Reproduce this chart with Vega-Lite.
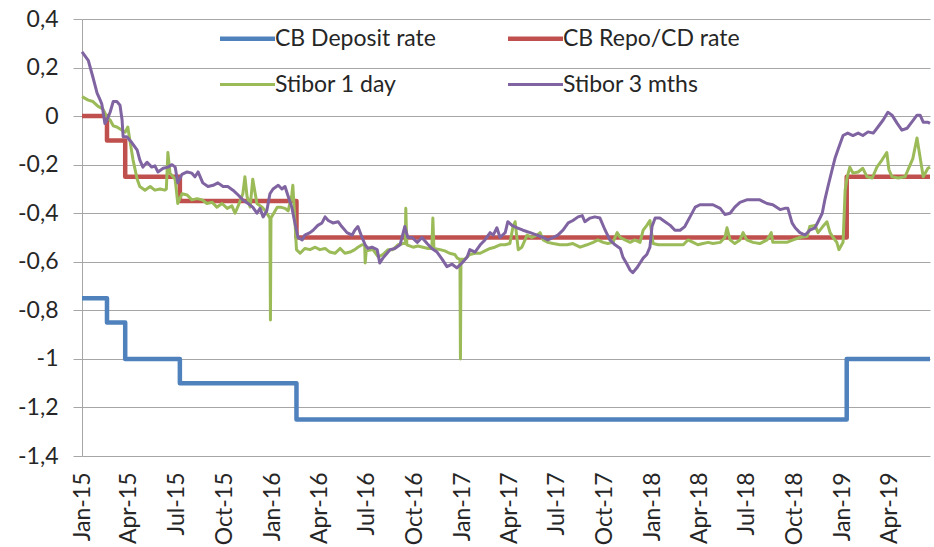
{
  "$schema": "https://vega.github.io/schema/vega-lite/v6.json",
  "width": 848,
  "height": 437,
  "autosize": "none",
  "padding": {"left": 82, "top": 19, "right": 4, "bottom": 91},
  "background": "white",
  "config": {
    "view": {"stroke": null},
    "font": "Lato",
    "axis": {"labelFont": "Lato", "labelFontSize": 23, "labelColor": "#262626"},
    "legend": {"labelFont": "Lato", "labelFontSize": 23, "labelColor": "#262626"}
  },
  "datasets": {
    "ticks": [
      {"date": "2015/01/01"}, {"date": "2015/04/01"}, {"date": "2015/07/01"}, {"date": "2015/10/01"},
      {"date": "2016/01/01"}, {"date": "2016/04/01"}, {"date": "2016/07/01"}, {"date": "2016/10/01"},
      {"date": "2017/01/01"}, {"date": "2017/04/01"}, {"date": "2017/07/01"}, {"date": "2017/10/01"},
      {"date": "2018/01/01"}, {"date": "2018/04/01"}, {"date": "2018/07/01"}, {"date": "2018/10/01"},
      {"date": "2019/01/01"}, {"date": "2019/04/01"}
    ],
    "policy": [
      {"date": "2015/01/01", "series": "CB Deposit rate", "value": -0.75},
      {"date": "2015/02/18", "series": "CB Deposit rate", "value": -0.85},
      {"date": "2015/03/25", "series": "CB Deposit rate", "value": -1.0},
      {"date": "2015/07/08", "series": "CB Deposit rate", "value": -1.1},
      {"date": "2016/02/17", "series": "CB Deposit rate", "value": -1.25},
      {"date": "2019/01/09", "series": "CB Deposit rate", "value": -1.0},
      {"date": "2019/06/18", "series": "CB Deposit rate", "value": -1.0},
      {"date": "2015/01/01", "series": "CB Repo/CD rate", "value": 0},
      {"date": "2015/02/18", "series": "CB Repo/CD rate", "value": -0.1},
      {"date": "2015/03/25", "series": "CB Repo/CD rate", "value": -0.25},
      {"date": "2015/07/08", "series": "CB Repo/CD rate", "value": -0.35},
      {"date": "2016/02/17", "series": "CB Repo/CD rate", "value": -0.5},
      {"date": "2019/01/09", "series": "CB Repo/CD rate", "value": -0.25},
      {"date": "2019/06/18", "series": "CB Repo/CD rate", "value": -0.25}
    ],
    "market": [
      {"date": "2015/01/01", "series": "Stibor 1 day", "value": 0.08},
      {"date": "2015/01/13", "series": "Stibor 1 day", "value": 0.066},
      {"date": "2015/01/22", "series": "Stibor 1 day", "value": 0.06},
      {"date": "2015/02/01", "series": "Stibor 1 day", "value": 0.04},
      {"date": "2015/02/10", "series": "Stibor 1 day", "value": 0.03},
      {"date": "2015/02/18", "series": "Stibor 1 day", "value": -0.004},
      {"date": "2015/02/24", "series": "Stibor 1 day", "value": -0.016},
      {"date": "2015/03/02", "series": "Stibor 1 day", "value": -0.04},
      {"date": "2015/03/09", "series": "Stibor 1 day", "value": -0.045},
      {"date": "2015/03/19", "series": "Stibor 1 day", "value": -0.058},
      {"date": "2015/03/25", "series": "Stibor 1 day", "value": -0.066},
      {"date": "2015/03/30", "series": "Stibor 1 day", "value": -0.045},
      {"date": "2015/04/03", "series": "Stibor 1 day", "value": -0.1},
      {"date": "2015/04/09", "series": "Stibor 1 day", "value": -0.18},
      {"date": "2015/04/17", "series": "Stibor 1 day", "value": -0.26},
      {"date": "2015/04/22", "series": "Stibor 1 day", "value": -0.29},
      {"date": "2015/05/02", "series": "Stibor 1 day", "value": -0.305},
      {"date": "2015/05/12", "series": "Stibor 1 day", "value": -0.29},
      {"date": "2015/05/21", "series": "Stibor 1 day", "value": -0.305},
      {"date": "2015/05/31", "series": "Stibor 1 day", "value": -0.3},
      {"date": "2015/06/09", "series": "Stibor 1 day", "value": -0.305},
      {"date": "2015/06/12", "series": "Stibor 1 day", "value": -0.3},
      {"date": "2015/06/15", "series": "Stibor 1 day", "value": -0.15},
      {"date": "2015/06/19", "series": "Stibor 1 day", "value": -0.235},
      {"date": "2015/06/29", "series": "Stibor 1 day", "value": -0.26},
      {"date": "2015/07/04", "series": "Stibor 1 day", "value": -0.36},
      {"date": "2015/07/12", "series": "Stibor 1 day", "value": -0.32},
      {"date": "2015/07/22", "series": "Stibor 1 day", "value": -0.325},
      {"date": "2015/07/31", "series": "Stibor 1 day", "value": -0.345},
      {"date": "2015/08/10", "series": "Stibor 1 day", "value": -0.34},
      {"date": "2015/08/20", "series": "Stibor 1 day", "value": -0.345},
      {"date": "2015/08/29", "series": "Stibor 1 day", "value": -0.36},
      {"date": "2015/09/08", "series": "Stibor 1 day", "value": -0.355},
      {"date": "2015/09/17", "series": "Stibor 1 day", "value": -0.375},
      {"date": "2015/09/27", "series": "Stibor 1 day", "value": -0.36},
      {"date": "2015/10/07", "series": "Stibor 1 day", "value": -0.38},
      {"date": "2015/10/16", "series": "Stibor 1 day", "value": -0.37},
      {"date": "2015/10/22", "series": "Stibor 1 day", "value": -0.4},
      {"date": "2015/10/28", "series": "Stibor 1 day", "value": -0.37},
      {"date": "2015/11/06", "series": "Stibor 1 day", "value": -0.32},
      {"date": "2015/11/10", "series": "Stibor 1 day", "value": -0.25},
      {"date": "2015/11/14", "series": "Stibor 1 day", "value": -0.33},
      {"date": "2015/11/20", "series": "Stibor 1 day", "value": -0.375},
      {"date": "2015/11/25", "series": "Stibor 1 day", "value": -0.26},
      {"date": "2015/12/03", "series": "Stibor 1 day", "value": -0.36},
      {"date": "2015/12/13", "series": "Stibor 1 day", "value": -0.375},
      {"date": "2015/12/19", "series": "Stibor 1 day", "value": -0.39},
      {"date": "2015/12/28", "series": "Stibor 1 day", "value": -0.42},
      {"date": "2015/12/29", "series": "Stibor 1 day", "value": -0.84},
      {"date": "2015/12/30", "series": "Stibor 1 day", "value": -0.42},
      {"date": "2016/01/11", "series": "Stibor 1 day", "value": -0.375},
      {"date": "2016/01/17", "series": "Stibor 1 day", "value": -0.375},
      {"date": "2016/01/26", "series": "Stibor 1 day", "value": -0.38},
      {"date": "2016/02/01", "series": "Stibor 1 day", "value": -0.39},
      {"date": "2016/02/08", "series": "Stibor 1 day", "value": -0.325},
      {"date": "2016/02/10", "series": "Stibor 1 day", "value": -0.285},
      {"date": "2016/02/14", "series": "Stibor 1 day", "value": -0.43},
      {"date": "2016/02/17", "series": "Stibor 1 day", "value": -0.55},
      {"date": "2016/02/24", "series": "Stibor 1 day", "value": -0.565},
      {"date": "2016/03/04", "series": "Stibor 1 day", "value": -0.545},
      {"date": "2016/03/14", "series": "Stibor 1 day", "value": -0.55},
      {"date": "2016/03/24", "series": "Stibor 1 day", "value": -0.54},
      {"date": "2016/04/02", "series": "Stibor 1 day", "value": -0.55},
      {"date": "2016/04/12", "series": "Stibor 1 day", "value": -0.545},
      {"date": "2016/04/21", "series": "Stibor 1 day", "value": -0.56},
      {"date": "2016/05/01", "series": "Stibor 1 day", "value": -0.565},
      {"date": "2016/05/11", "series": "Stibor 1 day", "value": -0.545},
      {"date": "2016/05/20", "series": "Stibor 1 day", "value": -0.565},
      {"date": "2016/05/30", "series": "Stibor 1 day", "value": -0.56},
      {"date": "2016/06/08", "series": "Stibor 1 day", "value": -0.55},
      {"date": "2016/06/14", "series": "Stibor 1 day", "value": -0.54},
      {"date": "2016/06/22", "series": "Stibor 1 day", "value": -0.53},
      {"date": "2016/06/27", "series": "Stibor 1 day", "value": -0.53},
      {"date": "2016/06/28", "series": "Stibor 1 day", "value": -0.605},
      {"date": "2016/06/30", "series": "Stibor 1 day", "value": -0.555},
      {"date": "2016/07/13", "series": "Stibor 1 day", "value": -0.55},
      {"date": "2016/07/23", "series": "Stibor 1 day", "value": -0.58},
      {"date": "2016/08/01", "series": "Stibor 1 day", "value": -0.57},
      {"date": "2016/08/11", "series": "Stibor 1 day", "value": -0.55},
      {"date": "2016/08/20", "series": "Stibor 1 day", "value": -0.55},
      {"date": "2016/08/30", "series": "Stibor 1 day", "value": -0.53},
      {"date": "2016/09/09", "series": "Stibor 1 day", "value": -0.525},
      {"date": "2016/09/13", "series": "Stibor 1 day", "value": -0.525},
      {"date": "2016/09/14", "series": "Stibor 1 day", "value": -0.38},
      {"date": "2016/09/16", "series": "Stibor 1 day", "value": -0.53},
      {"date": "2016/09/28", "series": "Stibor 1 day", "value": -0.54},
      {"date": "2016/10/07", "series": "Stibor 1 day", "value": -0.535},
      {"date": "2016/10/17", "series": "Stibor 1 day", "value": -0.54},
      {"date": "2016/10/27", "series": "Stibor 1 day", "value": -0.545},
      {"date": "2016/11/03", "series": "Stibor 1 day", "value": -0.545},
      {"date": "2016/11/05", "series": "Stibor 1 day", "value": -0.42},
      {"date": "2016/11/07", "series": "Stibor 1 day", "value": -0.545},
      {"date": "2016/11/19", "series": "Stibor 1 day", "value": -0.55},
      {"date": "2016/11/28", "series": "Stibor 1 day", "value": -0.555},
      {"date": "2016/12/07", "series": "Stibor 1 day", "value": -0.565},
      {"date": "2016/12/17", "series": "Stibor 1 day", "value": -0.57},
      {"date": "2016/12/22", "series": "Stibor 1 day", "value": -0.585},
      {"date": "2016/12/27", "series": "Stibor 1 day", "value": -0.59},
      {"date": "2016/12/28", "series": "Stibor 1 day", "value": -1.0},
      {"date": "2016/12/29", "series": "Stibor 1 day", "value": -0.59},
      {"date": "2017/01/05", "series": "Stibor 1 day", "value": -0.59},
      {"date": "2017/01/15", "series": "Stibor 1 day", "value": -0.57},
      {"date": "2017/01/25", "series": "Stibor 1 day", "value": -0.565},
      {"date": "2017/02/04", "series": "Stibor 1 day", "value": -0.565},
      {"date": "2017/02/13", "series": "Stibor 1 day", "value": -0.555},
      {"date": "2017/02/23", "series": "Stibor 1 day", "value": -0.545},
      {"date": "2017/03/04", "series": "Stibor 1 day", "value": -0.54},
      {"date": "2017/03/14", "series": "Stibor 1 day", "value": -0.53},
      {"date": "2017/03/24", "series": "Stibor 1 day", "value": -0.53},
      {"date": "2017/04/02", "series": "Stibor 1 day", "value": -0.525},
      {"date": "2017/04/08", "series": "Stibor 1 day", "value": -0.455},
      {"date": "2017/04/12", "series": "Stibor 1 day", "value": -0.435},
      {"date": "2017/04/18", "series": "Stibor 1 day", "value": -0.55},
      {"date": "2017/04/25", "series": "Stibor 1 day", "value": -0.54},
      {"date": "2017/05/05", "series": "Stibor 1 day", "value": -0.49},
      {"date": "2017/05/14", "series": "Stibor 1 day", "value": -0.5},
      {"date": "2017/05/24", "series": "Stibor 1 day", "value": -0.49},
      {"date": "2017/05/30", "series": "Stibor 1 day", "value": -0.48},
      {"date": "2017/06/05", "series": "Stibor 1 day", "value": -0.51},
      {"date": "2017/06/14", "series": "Stibor 1 day", "value": -0.52},
      {"date": "2017/06/24", "series": "Stibor 1 day", "value": -0.525},
      {"date": "2017/07/07", "series": "Stibor 1 day", "value": -0.53},
      {"date": "2017/07/21", "series": "Stibor 1 day", "value": -0.53},
      {"date": "2017/08/01", "series": "Stibor 1 day", "value": -0.525},
      {"date": "2017/08/15", "series": "Stibor 1 day", "value": -0.54},
      {"date": "2017/08/28", "series": "Stibor 1 day", "value": -0.53},
      {"date": "2017/09/09", "series": "Stibor 1 day", "value": -0.52},
      {"date": "2017/09/18", "series": "Stibor 1 day", "value": -0.51},
      {"date": "2017/09/28", "series": "Stibor 1 day", "value": -0.52},
      {"date": "2017/10/07", "series": "Stibor 1 day", "value": -0.525},
      {"date": "2017/10/17", "series": "Stibor 1 day", "value": -0.52},
      {"date": "2017/10/25", "series": "Stibor 1 day", "value": -0.48},
      {"date": "2017/10/31", "series": "Stibor 1 day", "value": -0.5},
      {"date": "2017/11/09", "series": "Stibor 1 day", "value": -0.51},
      {"date": "2017/11/19", "series": "Stibor 1 day", "value": -0.52},
      {"date": "2017/11/28", "series": "Stibor 1 day", "value": -0.51},
      {"date": "2017/12/08", "series": "Stibor 1 day", "value": -0.52},
      {"date": "2017/12/14", "series": "Stibor 1 day", "value": -0.47},
      {"date": "2017/12/21", "series": "Stibor 1 day", "value": -0.45},
      {"date": "2017/12/27", "series": "Stibor 1 day", "value": -0.43},
      {"date": "2018/01/02", "series": "Stibor 1 day", "value": -0.525},
      {"date": "2018/01/12", "series": "Stibor 1 day", "value": -0.53},
      {"date": "2018/01/21", "series": "Stibor 1 day", "value": -0.53},
      {"date": "2018/02/04", "series": "Stibor 1 day", "value": -0.53},
      {"date": "2018/02/17", "series": "Stibor 1 day", "value": -0.53},
      {"date": "2018/03/01", "series": "Stibor 1 day", "value": -0.53},
      {"date": "2018/03/10", "series": "Stibor 1 day", "value": -0.51},
      {"date": "2018/03/20", "series": "Stibor 1 day", "value": -0.52},
      {"date": "2018/03/29", "series": "Stibor 1 day", "value": -0.53},
      {"date": "2018/04/08", "series": "Stibor 1 day", "value": -0.525},
      {"date": "2018/04/18", "series": "Stibor 1 day", "value": -0.52},
      {"date": "2018/04/27", "series": "Stibor 1 day", "value": -0.525},
      {"date": "2018/05/11", "series": "Stibor 1 day", "value": -0.52},
      {"date": "2018/05/20", "series": "Stibor 1 day", "value": -0.5},
      {"date": "2018/05/24", "series": "Stibor 1 day", "value": -0.46},
      {"date": "2018/05/30", "series": "Stibor 1 day", "value": -0.51},
      {"date": "2018/06/08", "series": "Stibor 1 day", "value": -0.525},
      {"date": "2018/06/18", "series": "Stibor 1 day", "value": -0.51},
      {"date": "2018/06/24", "series": "Stibor 1 day", "value": -0.48},
      {"date": "2018/07/01", "series": "Stibor 1 day", "value": -0.51},
      {"date": "2018/07/13", "series": "Stibor 1 day", "value": -0.52},
      {"date": "2018/07/26", "series": "Stibor 1 day", "value": -0.525},
      {"date": "2018/08/09", "series": "Stibor 1 day", "value": -0.51},
      {"date": "2018/08/17", "series": "Stibor 1 day", "value": -0.48},
      {"date": "2018/08/20", "series": "Stibor 1 day", "value": -0.52},
      {"date": "2018/09/03", "series": "Stibor 1 day", "value": -0.52},
      {"date": "2018/09/16", "series": "Stibor 1 day", "value": -0.52},
      {"date": "2018/09/28", "series": "Stibor 1 day", "value": -0.51},
      {"date": "2018/10/11", "series": "Stibor 1 day", "value": -0.5},
      {"date": "2018/10/25", "series": "Stibor 1 day", "value": -0.495},
      {"date": "2018/10/30", "series": "Stibor 1 day", "value": -0.455},
      {"date": "2018/11/09", "series": "Stibor 1 day", "value": -0.45},
      {"date": "2018/11/15", "series": "Stibor 1 day", "value": -0.48},
      {"date": "2018/11/24", "series": "Stibor 1 day", "value": -0.455},
      {"date": "2018/12/02", "series": "Stibor 1 day", "value": -0.435},
      {"date": "2018/12/08", "series": "Stibor 1 day", "value": -0.48},
      {"date": "2018/12/14", "series": "Stibor 1 day", "value": -0.5},
      {"date": "2018/12/21", "series": "Stibor 1 day", "value": -0.52},
      {"date": "2018/12/25", "series": "Stibor 1 day", "value": -0.55},
      {"date": "2019/01/02", "series": "Stibor 1 day", "value": -0.52},
      {"date": "2019/01/06", "series": "Stibor 1 day", "value": -0.305},
      {"date": "2019/01/10", "series": "Stibor 1 day", "value": -0.25},
      {"date": "2019/01/15", "series": "Stibor 1 day", "value": -0.21},
      {"date": "2019/01/21", "series": "Stibor 1 day", "value": -0.235},
      {"date": "2019/01/31", "series": "Stibor 1 day", "value": -0.23},
      {"date": "2019/02/09", "series": "Stibor 1 day", "value": -0.215},
      {"date": "2019/02/17", "series": "Stibor 1 day", "value": -0.25},
      {"date": "2019/02/27", "series": "Stibor 1 day", "value": -0.255},
      {"date": "2019/03/08", "series": "Stibor 1 day", "value": -0.21},
      {"date": "2019/03/18", "series": "Stibor 1 day", "value": -0.18},
      {"date": "2019/03/27", "series": "Stibor 1 day", "value": -0.15},
      {"date": "2019/03/31", "series": "Stibor 1 day", "value": -0.22},
      {"date": "2019/04/06", "series": "Stibor 1 day", "value": -0.25},
      {"date": "2019/04/18", "series": "Stibor 1 day", "value": -0.255},
      {"date": "2019/05/01", "series": "Stibor 1 day", "value": -0.25},
      {"date": "2019/05/11", "series": "Stibor 1 day", "value": -0.2},
      {"date": "2019/05/16", "series": "Stibor 1 day", "value": -0.175},
      {"date": "2019/05/24", "series": "Stibor 1 day", "value": -0.09},
      {"date": "2019/05/30", "series": "Stibor 1 day", "value": -0.17},
      {"date": "2019/06/05", "series": "Stibor 1 day", "value": -0.25},
      {"date": "2019/06/14", "series": "Stibor 1 day", "value": -0.215},
      {"date": "2019/06/18", "series": "Stibor 1 day", "value": -0.21},
      {"date": "2015/01/01", "series": "Stibor 3 mths", "value": 0.265},
      {"date": "2015/01/13", "series": "Stibor 3 mths", "value": 0.23},
      {"date": "2015/01/22", "series": "Stibor 3 mths", "value": 0.16},
      {"date": "2015/01/30", "series": "Stibor 3 mths", "value": 0.095},
      {"date": "2015/02/05", "series": "Stibor 3 mths", "value": 0.066},
      {"date": "2015/02/08", "series": "Stibor 3 mths", "value": 0.05},
      {"date": "2015/02/10", "series": "Stibor 3 mths", "value": 0.025},
      {"date": "2015/02/14", "series": "Stibor 3 mths", "value": -0.03},
      {"date": "2015/02/18", "series": "Stibor 3 mths", "value": -0.016},
      {"date": "2015/02/24", "series": "Stibor 3 mths", "value": 0.016},
      {"date": "2015/03/02", "series": "Stibor 3 mths", "value": 0.06},
      {"date": "2015/03/09", "series": "Stibor 3 mths", "value": 0.06},
      {"date": "2015/03/15", "series": "Stibor 3 mths", "value": 0.045},
      {"date": "2015/03/19", "series": "Stibor 3 mths", "value": -0.016},
      {"date": "2015/03/21", "series": "Stibor 3 mths", "value": -0.085},
      {"date": "2015/03/28", "series": "Stibor 3 mths", "value": -0.085},
      {"date": "2015/04/07", "series": "Stibor 3 mths", "value": -0.11},
      {"date": "2015/04/17", "series": "Stibor 3 mths", "value": -0.14},
      {"date": "2015/04/22", "series": "Stibor 3 mths", "value": -0.18},
      {"date": "2015/04/28", "series": "Stibor 3 mths", "value": -0.21},
      {"date": "2015/05/06", "series": "Stibor 3 mths", "value": -0.19},
      {"date": "2015/05/15", "series": "Stibor 3 mths", "value": -0.21},
      {"date": "2015/05/21", "series": "Stibor 3 mths", "value": -0.205},
      {"date": "2015/05/27", "series": "Stibor 3 mths", "value": -0.23},
      {"date": "2015/06/06", "series": "Stibor 3 mths", "value": -0.215},
      {"date": "2015/06/15", "series": "Stibor 3 mths", "value": -0.21},
      {"date": "2015/06/23", "series": "Stibor 3 mths", "value": -0.2},
      {"date": "2015/06/29", "series": "Stibor 3 mths", "value": -0.21},
      {"date": "2015/07/04", "series": "Stibor 3 mths", "value": -0.275},
      {"date": "2015/07/12", "series": "Stibor 3 mths", "value": -0.24},
      {"date": "2015/07/22", "series": "Stibor 3 mths", "value": -0.23},
      {"date": "2015/07/31", "series": "Stibor 3 mths", "value": -0.235},
      {"date": "2015/08/06", "series": "Stibor 3 mths", "value": -0.25},
      {"date": "2015/08/12", "series": "Stibor 3 mths", "value": -0.23},
      {"date": "2015/08/21", "series": "Stibor 3 mths", "value": -0.275},
      {"date": "2015/08/31", "series": "Stibor 3 mths", "value": -0.29},
      {"date": "2015/09/10", "series": "Stibor 3 mths", "value": -0.285},
      {"date": "2015/09/19", "series": "Stibor 3 mths", "value": -0.275},
      {"date": "2015/09/29", "series": "Stibor 3 mths", "value": -0.29},
      {"date": "2015/10/08", "series": "Stibor 3 mths", "value": -0.29},
      {"date": "2015/10/18", "series": "Stibor 3 mths", "value": -0.305},
      {"date": "2015/10/28", "series": "Stibor 3 mths", "value": -0.325},
      {"date": "2015/11/06", "series": "Stibor 3 mths", "value": -0.345},
      {"date": "2015/11/16", "series": "Stibor 3 mths", "value": -0.36},
      {"date": "2015/11/25", "series": "Stibor 3 mths", "value": -0.375},
      {"date": "2015/12/03", "series": "Stibor 3 mths", "value": -0.4},
      {"date": "2015/12/09", "series": "Stibor 3 mths", "value": -0.38},
      {"date": "2015/12/15", "series": "Stibor 3 mths", "value": -0.415},
      {"date": "2015/12/22", "series": "Stibor 3 mths", "value": -0.39},
      {"date": "2015/12/28", "series": "Stibor 3 mths", "value": -0.32},
      {"date": "2016/01/03", "series": "Stibor 3 mths", "value": -0.3},
      {"date": "2016/01/13", "series": "Stibor 3 mths", "value": -0.285},
      {"date": "2016/01/20", "series": "Stibor 3 mths", "value": -0.3},
      {"date": "2016/01/26", "series": "Stibor 3 mths", "value": -0.29},
      {"date": "2016/02/01", "series": "Stibor 3 mths", "value": -0.33},
      {"date": "2016/02/08", "series": "Stibor 3 mths", "value": -0.375},
      {"date": "2016/02/14", "series": "Stibor 3 mths", "value": -0.44},
      {"date": "2016/02/20", "series": "Stibor 3 mths", "value": -0.5},
      {"date": "2016/02/28", "series": "Stibor 3 mths", "value": -0.51},
      {"date": "2016/03/04", "series": "Stibor 3 mths", "value": -0.49},
      {"date": "2016/03/14", "series": "Stibor 3 mths", "value": -0.48},
      {"date": "2016/03/20", "series": "Stibor 3 mths", "value": -0.47},
      {"date": "2016/03/29", "series": "Stibor 3 mths", "value": -0.45},
      {"date": "2016/04/06", "series": "Stibor 3 mths", "value": -0.44},
      {"date": "2016/04/12", "series": "Stibor 3 mths", "value": -0.415},
      {"date": "2016/04/18", "series": "Stibor 3 mths", "value": -0.43},
      {"date": "2016/04/27", "series": "Stibor 3 mths", "value": -0.44},
      {"date": "2016/05/07", "series": "Stibor 3 mths", "value": -0.435},
      {"date": "2016/05/14", "series": "Stibor 3 mths", "value": -0.455},
      {"date": "2016/05/24", "series": "Stibor 3 mths", "value": -0.48},
      {"date": "2016/06/03", "series": "Stibor 3 mths", "value": -0.49},
      {"date": "2016/06/08", "series": "Stibor 3 mths", "value": -0.47},
      {"date": "2016/06/14", "series": "Stibor 3 mths", "value": -0.455},
      {"date": "2016/06/22", "series": "Stibor 3 mths", "value": -0.5},
      {"date": "2016/06/28", "series": "Stibor 3 mths", "value": -0.53},
      {"date": "2016/07/03", "series": "Stibor 3 mths", "value": -0.545},
      {"date": "2016/07/11", "series": "Stibor 3 mths", "value": -0.54},
      {"date": "2016/07/21", "series": "Stibor 3 mths", "value": -0.55},
      {"date": "2016/07/26", "series": "Stibor 3 mths", "value": -0.605},
      {"date": "2016/08/01", "series": "Stibor 3 mths", "value": -0.585},
      {"date": "2016/08/09", "series": "Stibor 3 mths", "value": -0.565},
      {"date": "2016/08/15", "series": "Stibor 3 mths", "value": -0.55},
      {"date": "2016/08/24", "series": "Stibor 3 mths", "value": -0.545},
      {"date": "2016/09/03", "series": "Stibor 3 mths", "value": -0.53},
      {"date": "2016/09/12", "series": "Stibor 3 mths", "value": -0.455},
      {"date": "2016/09/18", "series": "Stibor 3 mths", "value": -0.5},
      {"date": "2016/09/26", "series": "Stibor 3 mths", "value": -0.5},
      {"date": "2016/10/06", "series": "Stibor 3 mths", "value": -0.52},
      {"date": "2016/10/15", "series": "Stibor 3 mths", "value": -0.5},
      {"date": "2016/10/25", "series": "Stibor 3 mths", "value": -0.525},
      {"date": "2016/11/03", "series": "Stibor 3 mths", "value": -0.545},
      {"date": "2016/11/13", "series": "Stibor 3 mths", "value": -0.56},
      {"date": "2016/11/23", "series": "Stibor 3 mths", "value": -0.59},
      {"date": "2016/12/02", "series": "Stibor 3 mths", "value": -0.62},
      {"date": "2016/12/12", "series": "Stibor 3 mths", "value": -0.61},
      {"date": "2016/12/21", "series": "Stibor 3 mths", "value": -0.625},
      {"date": "2016/12/31", "series": "Stibor 3 mths", "value": -0.605},
      {"date": "2017/01/10", "series": "Stibor 3 mths", "value": -0.58},
      {"date": "2017/01/15", "series": "Stibor 3 mths", "value": -0.55},
      {"date": "2017/01/25", "series": "Stibor 3 mths", "value": -0.56},
      {"date": "2017/02/04", "series": "Stibor 3 mths", "value": -0.53},
      {"date": "2017/02/13", "series": "Stibor 3 mths", "value": -0.51},
      {"date": "2017/02/23", "series": "Stibor 3 mths", "value": -0.48},
      {"date": "2017/03/01", "series": "Stibor 3 mths", "value": -0.49},
      {"date": "2017/03/08", "series": "Stibor 3 mths", "value": -0.46},
      {"date": "2017/03/14", "series": "Stibor 3 mths", "value": -0.5},
      {"date": "2017/03/24", "series": "Stibor 3 mths", "value": -0.48},
      {"date": "2017/03/29", "series": "Stibor 3 mths", "value": -0.435},
      {"date": "2017/04/06", "series": "Stibor 3 mths", "value": -0.45},
      {"date": "2017/04/16", "series": "Stibor 3 mths", "value": -0.46},
      {"date": "2017/04/27", "series": "Stibor 3 mths", "value": -0.47},
      {"date": "2017/05/11", "series": "Stibor 3 mths", "value": -0.48},
      {"date": "2017/05/24", "series": "Stibor 3 mths", "value": -0.49},
      {"date": "2017/06/05", "series": "Stibor 3 mths", "value": -0.5},
      {"date": "2017/06/14", "series": "Stibor 3 mths", "value": -0.51},
      {"date": "2017/06/24", "series": "Stibor 3 mths", "value": -0.5},
      {"date": "2017/07/03", "series": "Stibor 3 mths", "value": -0.49},
      {"date": "2017/07/13", "series": "Stibor 3 mths", "value": -0.47},
      {"date": "2017/07/23", "series": "Stibor 3 mths", "value": -0.44},
      {"date": "2017/08/01", "series": "Stibor 3 mths", "value": -0.43},
      {"date": "2017/08/11", "series": "Stibor 3 mths", "value": -0.415},
      {"date": "2017/08/19", "series": "Stibor 3 mths", "value": -0.41},
      {"date": "2017/08/24", "series": "Stibor 3 mths", "value": -0.435},
      {"date": "2017/09/03", "series": "Stibor 3 mths", "value": -0.42},
      {"date": "2017/09/12", "series": "Stibor 3 mths", "value": -0.415},
      {"date": "2017/09/22", "series": "Stibor 3 mths", "value": -0.42},
      {"date": "2017/10/02", "series": "Stibor 3 mths", "value": -0.47},
      {"date": "2017/10/11", "series": "Stibor 3 mths", "value": -0.51},
      {"date": "2017/10/21", "series": "Stibor 3 mths", "value": -0.53},
      {"date": "2017/10/31", "series": "Stibor 3 mths", "value": -0.545},
      {"date": "2017/11/05", "series": "Stibor 3 mths", "value": -0.58},
      {"date": "2017/11/13", "series": "Stibor 3 mths", "value": -0.61},
      {"date": "2017/11/19", "series": "Stibor 3 mths", "value": -0.635},
      {"date": "2017/11/24", "series": "Stibor 3 mths", "value": -0.645},
      {"date": "2017/12/02", "series": "Stibor 3 mths", "value": -0.625},
      {"date": "2017/12/08", "series": "Stibor 3 mths", "value": -0.605},
      {"date": "2017/12/14", "series": "Stibor 3 mths", "value": -0.585},
      {"date": "2017/12/21", "series": "Stibor 3 mths", "value": -0.57},
      {"date": "2017/12/27", "series": "Stibor 3 mths", "value": -0.54},
      {"date": "2017/12/31", "series": "Stibor 3 mths", "value": -0.455},
      {"date": "2018/01/06", "series": "Stibor 3 mths", "value": -0.42},
      {"date": "2018/01/15", "series": "Stibor 3 mths", "value": -0.42},
      {"date": "2018/01/25", "series": "Stibor 3 mths", "value": -0.435},
      {"date": "2018/02/04", "series": "Stibor 3 mths", "value": -0.45},
      {"date": "2018/02/13", "series": "Stibor 3 mths", "value": -0.47},
      {"date": "2018/02/23", "series": "Stibor 3 mths", "value": -0.47},
      {"date": "2018/03/04", "series": "Stibor 3 mths", "value": -0.455},
      {"date": "2018/03/14", "series": "Stibor 3 mths", "value": -0.415},
      {"date": "2018/03/24", "series": "Stibor 3 mths", "value": -0.375},
      {"date": "2018/04/02", "series": "Stibor 3 mths", "value": -0.365},
      {"date": "2018/04/16", "series": "Stibor 3 mths", "value": -0.365},
      {"date": "2018/04/27", "series": "Stibor 3 mths", "value": -0.365},
      {"date": "2018/05/11", "series": "Stibor 3 mths", "value": -0.38},
      {"date": "2018/05/20", "series": "Stibor 3 mths", "value": -0.405},
      {"date": "2018/05/30", "series": "Stibor 3 mths", "value": -0.4},
      {"date": "2018/06/08", "series": "Stibor 3 mths", "value": -0.375},
      {"date": "2018/06/18", "series": "Stibor 3 mths", "value": -0.355},
      {"date": "2018/07/01", "series": "Stibor 3 mths", "value": -0.345},
      {"date": "2018/07/13", "series": "Stibor 3 mths", "value": -0.345},
      {"date": "2018/07/26", "series": "Stibor 3 mths", "value": -0.345},
      {"date": "2018/08/09", "series": "Stibor 3 mths", "value": -0.36},
      {"date": "2018/08/20", "series": "Stibor 3 mths", "value": -0.365},
      {"date": "2018/09/03", "series": "Stibor 3 mths", "value": -0.385},
      {"date": "2018/09/12", "series": "Stibor 3 mths", "value": -0.38},
      {"date": "2018/09/18", "series": "Stibor 3 mths", "value": -0.38},
      {"date": "2018/09/26", "series": "Stibor 3 mths", "value": -0.44},
      {"date": "2018/10/02", "series": "Stibor 3 mths", "value": -0.46},
      {"date": "2018/10/11", "series": "Stibor 3 mths", "value": -0.48},
      {"date": "2018/10/21", "series": "Stibor 3 mths", "value": -0.49},
      {"date": "2018/10/30", "series": "Stibor 3 mths", "value": -0.47},
      {"date": "2018/11/09", "series": "Stibor 3 mths", "value": -0.46},
      {"date": "2018/11/15", "series": "Stibor 3 mths", "value": -0.435},
      {"date": "2018/11/23", "series": "Stibor 3 mths", "value": -0.4},
      {"date": "2018/11/28", "series": "Stibor 3 mths", "value": -0.345},
      {"date": "2018/12/04", "series": "Stibor 3 mths", "value": -0.29},
      {"date": "2018/12/12", "series": "Stibor 3 mths", "value": -0.22},
      {"date": "2018/12/18", "series": "Stibor 3 mths", "value": -0.17},
      {"date": "2018/12/23", "series": "Stibor 3 mths", "value": -0.14},
      {"date": "2019/01/02", "series": "Stibor 3 mths", "value": -0.08},
      {"date": "2019/01/11", "series": "Stibor 3 mths", "value": -0.07},
      {"date": "2019/01/21", "series": "Stibor 3 mths", "value": -0.08},
      {"date": "2019/01/31", "series": "Stibor 3 mths", "value": -0.07},
      {"date": "2019/02/09", "series": "Stibor 3 mths", "value": -0.08},
      {"date": "2019/02/19", "series": "Stibor 3 mths", "value": -0.065},
      {"date": "2019/03/01", "series": "Stibor 3 mths", "value": -0.07},
      {"date": "2019/03/10", "series": "Stibor 3 mths", "value": -0.045},
      {"date": "2019/03/20", "series": "Stibor 3 mths", "value": -0.016},
      {"date": "2019/03/29", "series": "Stibor 3 mths", "value": 0.016},
      {"date": "2019/04/06", "series": "Stibor 3 mths", "value": 0.004},
      {"date": "2019/04/16", "series": "Stibor 3 mths", "value": -0.03},
      {"date": "2019/04/25", "series": "Stibor 3 mths", "value": -0.058},
      {"date": "2019/05/05", "series": "Stibor 3 mths", "value": -0.05},
      {"date": "2019/05/14", "series": "Stibor 3 mths", "value": -0.025},
      {"date": "2019/05/24", "series": "Stibor 3 mths", "value": 0.004},
      {"date": "2019/05/30", "series": "Stibor 3 mths", "value": 0.004},
      {"date": "2019/06/05", "series": "Stibor 3 mths", "value": -0.025},
      {"date": "2019/06/14", "series": "Stibor 3 mths", "value": -0.025},
      {"date": "2019/06/18", "series": "Stibor 3 mths", "value": -0.03}
    ]
  },
  "encoding": {
    "x": {
      "field": "date",
      "type": "temporal",
      "scale": {"domain": [{"year": 2015, "month": 1, "date": 1}, {"year": 2019, "month": 6, "date": 18}]},
      "axis": {
        "title": null,
        "values": [
          {"year": 2015, "month": 1, "date": 1}, {"year": 2015, "month": 4, "date": 1}, {"year": 2015, "month": 7, "date": 1}, {"year": 2015, "month": 10, "date": 1},
          {"year": 2016, "month": 1, "date": 1}, {"year": 2016, "month": 4, "date": 1}, {"year": 2016, "month": 7, "date": 1}, {"year": 2016, "month": 10, "date": 1},
          {"year": 2017, "month": 1, "date": 1}, {"year": 2017, "month": 4, "date": 1}, {"year": 2017, "month": 7, "date": 1}, {"year": 2017, "month": 10, "date": 1},
          {"year": 2018, "month": 1, "date": 1}, {"year": 2018, "month": 4, "date": 1}, {"year": 2018, "month": 7, "date": 1}, {"year": 2018, "month": 10, "date": 1},
          {"year": 2019, "month": 1, "date": 1}, {"year": 2019, "month": 4, "date": 1}
        ],
        "format": "%b-%y",
        "labelAngle": -90,
        "labelPadding": 16,
        "ticks": false,
        "domain": false,
        "grid": false,
        "labelOverlap": false,
        "labelBound": false,
        "labelFlush": false
      }
    },
    "y": {
      "field": "value",
      "type": "quantitative",
      "scale": {"domain": [-1.4, 0.4], "nice": false, "zero": false},
      "axis": {
        "title": null,
        "values": [-1.4, -1.2, -1, -0.8, -0.6, -0.4, -0.2, 0, 0.2, 0.4],
        "labelExpr": "replace(datum.value + '', '.', ',')",
        "grid": true,
        "gridColor": "#A6A6A6",
        "gridWidth": 1,
        "domainColor": "#A6A6A6",
        "tickColor": "#A6A6A6",
        "tickSize": 9,
        "labelPadding": 15,
        "labelOverlap": false,
        "labelFlush": false
      }
    },
    "color": {
      "field": "series", "type": "nominal",
      "scale": {"domain": ["CB Deposit rate", "CB Repo/CD rate", "Stibor 1 day", "Stibor 3 mths"], "range": ["#4F81BD", "#C0504D", "#9BBB59", "#8064A2"]},
      "legend": {
        "title": null, "orient": "none", "legendX": 154, "legendY": 8,
        "direction": "horizontal", "columns": 2, "columnPadding": 63, "rowPadding": 22,
        "symbolType": "stroke", "symbolSize": 3025, "symbolStrokeWidth": 4.5, "labelOffset": 16, "padding": 0, "labelLimit": 0,
        "encode": {"symbols": {"update": {"strokeWidth": {"signal": "indexof(['Stibor 1 day', 'Stibor 3 mths'], datum.value) >= 0 ? 3 : 4.5"}}}}
      }
    }
  },
  "layer": [
    {
      "data": {"name": "ticks"},
      "mark": {"type": "rule", "color": "#A6A6A6", "strokeWidth": 1},
      "encoding": {
        "y": {"datum": 0, "type": "quantitative"},
        "y2": {"datum": -0.029},
        "color": {"value": "#A6A6A6"}
      }
    },
    {
      "data": {"name": "policy"},
      "mark": {"type": "line", "interpolate": "step-after", "strokeJoin": "round", "strokeWidth": 4.5}
    },
    {
      "data": {"name": "market"},
      "mark": {"type": "line", "strokeJoin": "round", "strokeWidth": 3}
    }
  ]
}
